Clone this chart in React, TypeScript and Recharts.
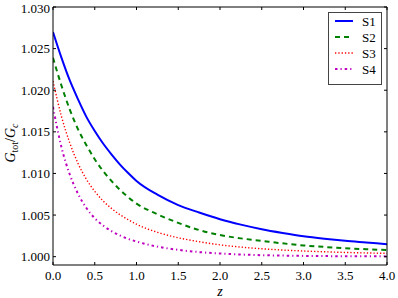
import React from "react";
import { LineChart, Line, XAxis, YAxis } from "recharts";

const zValues = [0, 0.1, 0.2, 0.3, 0.4, 0.5, 0.6, 0.7, 0.8, 0.9, 1.0, 1.25, 1.5, 1.75, 2.0, 2.25, 2.5, 2.75, 3.0, 3.25, 3.5, 3.75, 4.0];
const s1 = [1.027, 1.02395, 1.0212, 1.0189, 1.0168, 1.0151, 1.0136, 1.0123, 1.0111, 1.01005, 1.0091, 1.00745, 1.0062, 1.0053, 1.0045, 1.00385, 1.0033, 1.00285, 1.00245, 1.00215, 1.0019, 1.0017, 1.0015];
const s2 = [1.0239, 1.0206, 1.0177, 1.0153, 1.0134, 1.0117, 1.0103, 1.0091, 1.00805, 1.00715, 1.00638, 1.0051, 1.00406, 1.0032, 1.0026, 1.0022, 1.0019, 1.0016, 1.00135, 1.00117, 1.00102, 1.0009, 1.0008];
const s3 = [1.0211, 1.0169, 1.0137, 1.0112, 1.0093, 1.00785, 1.0067, 1.0058, 1.00505, 1.00445, 1.0039, 1.00293, 1.00227, 1.0018, 1.00142, 1.00115, 1.00095, 1.0008, 1.00068, 1.00059, 1.00051, 1.00045, 1.0004];
const s4 = [1.018, 1.0132, 1.0099, 1.00755, 1.00585, 1.00462, 1.00374, 1.00307, 1.00255, 1.00214, 1.00182, 1.00121, 1.00082, 1.00055, 1.00038, 1.00026, 1.00018, 1.00013, 1.000095, 1.00007, 1.000055, 1.000045, 1.000035];
const seriesNames = ["S1", "S2", "S3", "S4"];
const xTicks = [0, 0.5, 1.0, 1.5, 2.0, 2.5, 3.0, 3.5, 4.0];
const yTicks = [1.0, 1.005, 1.01, 1.015, 1.02, 1.025, 1.03];

const data = zValues.map((z, i) => ({ z, S1: s1[i], S2: s2[i], S3: s3[i], S4: s4[i] }));

const styles = [
  { color: "#0000ff", dash: undefined as string | undefined, width: 2 },
  { color: "#008000", dash: "5 4", width: 2 },
  { color: "#ff0000", dash: "1.3 2", width: 1.4 },
  { color: "#bf00bf", dash: "2.5 3 1.2 3", width: 2 },
];

const FONT = "Liberation Serif, serif";

const LegendBox = () => (
  <svg width={56} height={74} style={{ position: "absolute", left: 328, top: 12, display: "block" }}>
    <rect x={0.5} y={0.5} width={53} height={72} fill="#fff" stroke="#444" strokeWidth={1} />
    {seriesNames.map((n, i) => {
      const y = 9 + i * 16;
      const st = styles[i];
      return (
        <g key={n}>
          <line x1={7} x2={25} y1={y} y2={y} stroke={st.color} strokeWidth={st.width} strokeDasharray={st.dash} />
          <text x={34} y={y + 4.5} style={{ fontFamily: FONT }} fontSize={13} fill="#000">{n}</text>
        </g>
      );
    })}
  </svg>
);

const YLabel = () => (
  <text transform="translate(15,143) rotate(-90)" textAnchor="middle" style={{ fontFamily: FONT }} fontSize={14} fill="#000">
    <tspan fontStyle="italic">G</tspan>
    <tspan fontSize={10} dy={3}>tot</tspan>
    <tspan dy={-3}>/</tspan>
    <tspan fontStyle="italic">G</tspan>
    <tspan fontSize={10} fontStyle="italic" dy={3}>c</tspan>
  </text>
);

export default function App() {
  return (
    <div style={{ position: "absolute", left: 0, top: 0, width: 398, height: 298, fontFamily: FONT }}>
      <LineChart width={398} height={298} data={data} margin={{ top: 6, right: 10, left: 0, bottom: 0 }} style={{ fontFamily: FONT }}>
        <XAxis
          dataKey="z"
          type="number"
          domain={[0, 4]}
          ticks={xTicks}
          allowDataOverflow
          height={33}
          tickSize={-3}
          tickMargin={9}
          stroke="#000"
          tick={{ fill: "#000", fontFamily: FONT, fontSize: 13 }}
          tickFormatter={(v: number) => v.toFixed(1)}
          label={{ value: "z", position: "insideBottom", offset: 2, fontStyle: "italic", fontFamily: FONT, fontSize: 14, fill: "#000" }}
        />
        <XAxis
          xAxisId="top"
          orientation="top"
          dataKey="z"
          type="number"
          domain={[0, 4]}
          ticks={xTicks}
          allowDataOverflow
          height={1}
          tickSize={-3}
          stroke="#000"
          tickFormatter={() => ""}
        />
        <YAxis
          type="number"
          domain={[0.999, 1.03]}
          ticks={yTicks}
          allowDataOverflow
          width={53}
          tickSize={-3}
          tickMargin={6}
          stroke="#000"
          tick={{ fill: "#000", fontFamily: FONT, fontSize: 13 }}
          tickFormatter={(v: number) => v.toFixed(3)}
          label={{ content: () => <YLabel /> }}
        />
        <YAxis
          yAxisId="right"
          orientation="right"
          type="number"
          domain={[0.999, 1.03]}
          ticks={yTicks}
          allowDataOverflow
          width={1}
          tickSize={-3}
          stroke="#000"
          tickFormatter={() => ""}
        />
        {seriesNames.map((n, i) => (
          <Line
            key={n}
            dataKey={n}
            type="monotone"
            stroke={styles[i].color}
            strokeWidth={styles[i].width}
            strokeDasharray={styles[i].dash}
            dot={false}
            isAnimationActive={false}
          />
        ))}
      </LineChart>
      <LegendBox />
    </div>
  );
}
